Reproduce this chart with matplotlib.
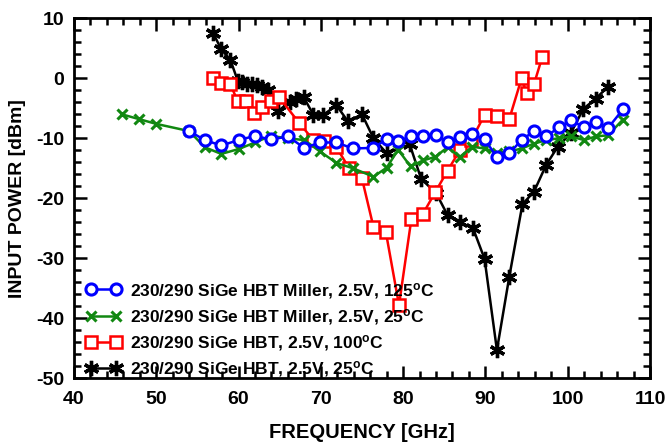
import matplotlib
matplotlib.use("Agg")
import matplotlib.pyplot as plt
from matplotlib.ticker import MultipleLocator

plt.rcParams['font.family'] = ['Liberation Sans', 'DejaVu Sans']
plt.rcParams['font.weight'] = 'bold'
plt.rcParams['axes.unicode_minus'] = False
plt.rcParams['mathtext.fontset'] = 'custom'
plt.rcParams['mathtext.rm'] = 'Liberation Sans:bold'
plt.rcParams['mathtext.bf'] = 'Liberation Sans:bold'
plt.rcParams['mathtext.default'] = 'bf'

# Miller, 125C (blue circles)
blue_x = [54.0, 55.9, 57.9, 60.0, 62.0, 63.9, 66.0, 68.0, 69.9, 71.9, 73.9, 76.3,
          78.0, 79.4, 80.9, 82.4, 84.0, 85.4, 86.9, 88.4, 89.9, 91.4, 92.9, 94.4,
          95.9, 97.4, 98.9, 100.4, 102.0, 103.4, 104.9, 106.7]
blue_y = [-8.8, -10.3, -11.2, -10.3, -9.6, -10.2, -9.7, -11.6, -10.7, -10.7, -11.7, -11.6,
          -10.2, -10.5, -9.7, -9.7, -9.5, -10.7, -9.8, -9.3, -10.2, -13.1, -12.5, -10.3,
          -8.8, -9.7, -8.2, -7.0, -8.2, -7.3, -8.3, -5.2]

# Miller, 25C (green x)
green_x = [45.8, 47.9, 50.0, 54.0, 55.9, 57.9, 60.0, 62.0, 63.9, 66.0, 68.0, 69.9,
           71.9, 73.9, 76.4, 78.0, 79.4, 80.9, 82.4, 83.9, 85.4, 86.9, 88.4, 89.9,
           91.4, 92.9, 94.4, 95.9, 97.4, 98.9, 100.4, 102.0, 103.4, 104.9, 106.7]
green_y = [-6.0, -6.8, -7.6, -8.8, -11.5, -12.6, -11.8, -10.7, -9.6, -10.0, -10.3, -12.2,
           -14.1, -15.0, -16.4, -14.9, -11.9, -14.7, -13.7, -13.1, -11.5, -13.1, -11.4, -11.7,
           -12.4, -12.2, -11.7, -10.9, -10.3, -10.0, -9.7, -10.3, -9.7, -9.5, -6.9]

# HBT, 100C (red squares)
red_x = [56.9, 57.9, 59.0, 59.9, 60.9, 61.9, 62.9, 63.9, 64.9, 67.4, 69.1, 70.4,
         71.9, 73.4, 75.0, 76.4, 77.9, 79.5, 81.0, 82.4, 83.9, 85.4, 86.9, 88.3,
         89.9, 91.4, 92.9, 94.4, 95.0, 95.9, 96.9]
red_y = [0.1, -0.8, -1.0, -3.8, -3.8, -5.8, -4.8, -3.8, -3.1, -7.5, -10.3, -10.5,
         -11.5, -14.9, -16.7, -24.8, -25.6, -37.8, -23.5, -22.6, -19.0, -15.4, -12.0, -10.3,
         -6.1, -6.3, -6.8, 0.0, -2.5, -1.0, 3.5]

# HBT, 25C (black asterisks)
black_x = [56.9, 57.9, 59.0, 59.9, 60.4, 61.0, 61.6, 62.2, 62.8, 63.6, 64.8, 66.2,
           67.0, 67.9, 69.1, 70.3, 71.9, 73.3, 75.0, 76.4, 78.0, 80.8, 82.2, 84.0,
           85.4, 86.9, 88.5, 89.9, 91.4, 92.9, 94.5, 95.9, 97.4, 98.8, 100.4, 101.9,
           103.4, 104.9]
black_y = [7.6, 4.8, 3.1, -0.4, -0.7, -0.9, -1.0, -1.2, -1.5, -2.0, -5.5, -3.9,
           -3.5, -3.1, -6.1, -6.1, -4.5, -7.2, -6.0, -10.0, -12.5, -11.0, -16.8, -19.1,
           -22.8, -24.0, -25.0, -30.1, -45.3, -33.1, -21.0, -18.9, -14.4, -11.4, -9.1, -5.1,
           -3.4, -1.4]

labels = [
    "230/290 SiGe HBT Miller, 2.5V, 125$^{o}$C",
    "230/290 SiGe HBT Miller, 2.5V, 25$^{o}$C",
    "230/290 SiGe HBT, 2.5V, 100$^{o}$C",
    "230/290 SiGe HBT, 2.5V, 25$^{o}$C",
]

x_ticks = [40, 50, 60, 70, 80, 90, 100, 110]
y_ticks = [-50, -40, -30, -20, -10, 0, 10]

fig = plt.figure(figsize=(6.7, 4.44), dpi=100)
ax = fig.add_axes([0.1104, 0.148, 0.8597, 0.8108])

lw = 1.8
ax.plot(blue_x, blue_y, color='#0000ff', lw=lw, marker='o', ms=8, mfc='white',
        mec='#0000ff', mew=2.2, label=labels[0], zorder=4)
ax.plot(green_x, green_y, color='#118811', lw=lw, marker='x', ms=7, mew=2.2,
        label=labels[1], zorder=3)
ax.plot(red_x, red_y, color='#ff0000', lw=lw, marker='s', ms=8, mfc='white',
        mec='#ff0000', mew=1.8, label=labels[2], zorder=2)
ax.plot(black_x, black_y, color='black', lw=lw, marker=(6, 2, 0), ms=11, mew=2.4,
        label=labels[3], zorder=1)

ax.set_xlim(40, 110)
ax.set_ylim(-50, 10)
ax.set_xticks(x_ticks)
ax.set_yticks(y_ticks)
ax.xaxis.set_minor_locator(MultipleLocator(2))
ax.yaxis.set_minor_locator(MultipleLocator(2))
ax.tick_params(which='both', direction='in', top=True, right=True, width=1.8,
               labelsize=14)
ax.tick_params(which='major', length=9)
ax.tick_params(which='minor', length=5)
ax.tick_params(axis='x', which='major', pad=9)
ax.tick_params(axis='y', which='major', pad=7)
for sp in ax.spines.values():
    sp.set_linewidth(2)

for lab in ax.get_xticklabels() + ax.get_yticklabels():
    lab.set_fontweight('bold')

ax.set_xlabel("FREQUENCY [GHz]", fontsize=14.5, fontweight='bold')
ax.set_ylabel("INPUT POWER [dBm]", fontsize=14, fontweight='bold')
ax.xaxis.set_label_coords(0.5, -0.125)
ax.yaxis.set_label_coords(-0.083, 0.5)

leg = ax.legend(loc='lower left', bbox_to_anchor=(0.0, -0.037), frameon=False,
                numpoints=2, handlelength=2.0, handletextpad=0.5,
                labelspacing=0.36, prop={'size': 12.5, 'weight': 'bold'},
                borderaxespad=0.3)

fig.savefig("out.png", dpi=100)
